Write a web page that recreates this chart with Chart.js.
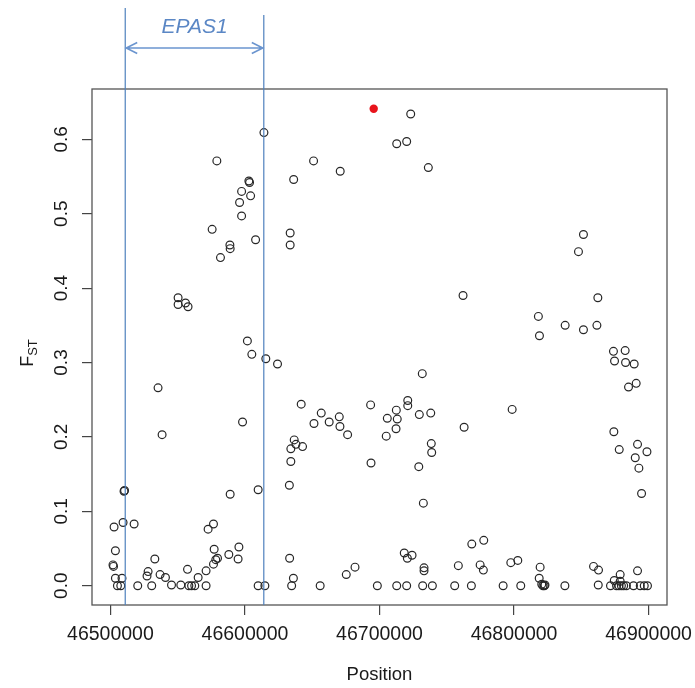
<!DOCTYPE html>
<html><head><meta charset="utf-8">
<script src="https://cdn.jsdelivr.net/npm/chart.js@4/dist/chart.umd.min.js"></script>
<style>html,body{margin:0;padding:0;background:#fff}#wrap{width:695px;height:688px;position:relative}</style>
</head><body><div id="wrap"><canvas id="c"></canvas></div>
<script>
// SNP positions and FST values (open circles)
const positions = [
46614100,46579100,46602900,46603400,46597500,46604200,46596000,46597500,46575600,46607900,46588800,46589000,46581800,46550300,46550300,46555800,46557700,46601800,46636200,46633600,46633600,
46605100,46615500,46624200,46535400,46538400,46598200,
46636600,46637900,46642800,46634100,46634100,46633000,
46510100,46510500,46589000,46609800,46502700,46509400,46517600,46572600,46576600,46503700,46533000,46577100,46595500,46588000,46594900,46578300,46579600,46576600,46501900,46502300,46528000,46527200,46536900,46540900,46557300,46571100,46565200,46503700,46508600,46505200,46507700,46520300,46530700,46545400,46552300,46558300,46560300,46562700,46571100,46609800,46614800,46634700,46636000,46633200,
46723200,46712800,46720200,46651000,46670800,46736300,46762100,
46731800,46641800,46656700,46651300,46662600,46670100,46670600,46676300,46693400,46705800,46712500,46713200,46712300,46705000,46721000,46721000,46729600,46738100,46762900,46738500,46738800,46729200,46693700,46732600,46768600,
46655900,46675300,46681800,46698400,46712800,46720200,46718400,46724200,46720700,46733100,46733100,46732100,46739300,46755900,46768300,46758600,46774800,
46851600,46847900,46862300,46818100,46838000,46851600,46861600,46818900,
46873900,46882600,46874700,46882900,46889300,46885100,46890800,46798600,46874200,46878200,46891800,46898800,46890100,46892800,46894800,
46777500,46777200,46797600,46802800,46819400,46818700,46820600,46821500,46822500,46823000,46791900,46805000,46837800,46859100,46862800,46862600,46871700,46874500,46878900,46878900,46876200,46878000,46879800,46881500,46883500,46891800,46888800,46893800,46896800,46899200
];
const fst = [
0.609,0.571,0.544,0.542,0.530,0.524,0.515,0.497,0.479,0.465,0.458,0.453,0.441,0.387,0.378,0.380,0.375,0.329,0.546,0.474,0.458,
0.311,0.305,0.298,0.266,0.203,0.220,
0.196,0.190,0.187,0.184,0.167,0.135,
0.127,0.128,0.123,0.129,0.079,0.085,0.083,0.076,0.083,0.047,0.036,0.049,0.052,0.042,0.036,0.035,0.037,0.029,0.028,0.026,0.019,0.013,0.015,0.011,0.022,0.020,0.011,0.010,0.010,0.000,0.000,0.000,0.000,0.001,0.001,0.000,0.000,0.000,0.000,0.000,0.000,0.000,0.010,0.037,
0.634,0.594,0.597,0.571,0.557,0.562,0.390,
0.285,0.244,0.232,0.218,0.220,0.227,0.214,0.203,0.243,0.225,0.236,0.224,0.211,0.201,0.249,0.242,0.230,0.232,0.213,0.191,0.179,0.160,0.165,0.111,0.056,
0.000,0.015,0.025,0.000,0.000,0.000,0.044,0.041,0.037,0.024,0.020,0.000,0.000,0.000,0.000,0.027,0.028,
0.472,0.449,0.387,0.362,0.350,0.344,0.350,0.336,
0.315,0.316,0.302,0.300,0.298,0.267,0.272,0.237,0.207,0.183,0.190,0.180,0.172,0.158,0.124,
0.061,0.021,0.031,0.034,0.025,0.010,0.002,0.000,0.000,0.001,0.000,0.000,0.000,0.026,0.021,0.001,0.000,0.007,0.015,0.006,0.000,0.000,0.000,0.000,0.000,0.020,0.000,0.000,0.000,0.000
];
// highlighted top SNP (filled red)
const peakPositions = [46695700];
const peakFst = [0.641];

const xTicks = [46500000, 46600000, 46700000, 46800000, 46900000];
const yTicks = [0.0, 0.1, 0.2, 0.3, 0.4, 0.5, 0.6];
const xRange = [46486300, 46913700];
const yRange = [-0.0259, 0.6676];

const geneName = 'EPAS1';
const geneStart = 46511000;
const geneEnd = 46614000;

const xTitle = 'Position';
const yTitleMain = 'F';
const yTitleSub = 'ST';

const FONT = "'Liberation Sans', Arial, sans-serif";
const BLUE = '#4f81bd';

const mainPts = positions.map((p, i) => ({x: p, y: fst[i]}));
const peakPts = peakPositions.map((p, i) => ({x: p, y: peakFst[i]}));

const framePlugin = {
  id: 'frame',
  afterDraw(chart) {
    const {ctx, chartArea: a, scales: {x}} = chart;
    ctx.save();
    // box
    ctx.strokeStyle = '#555';
    ctx.lineWidth = 1.3;
    ctx.strokeRect(a.left, a.top, a.right - a.left, a.bottom - a.top);
    // gene boundaries
    const x1 = x.getPixelForValue(geneStart);
    const x2 = x.getPixelForValue(geneEnd);
    ctx.strokeStyle = BLUE;
    ctx.lineWidth = 1.2;
    ctx.beginPath();
    ctx.moveTo(x1, 8); ctx.lineTo(x1, a.bottom);
    ctx.moveTo(x2, 15); ctx.lineTo(x2, a.bottom);
    ctx.stroke();
    // double arrow
    const ay = 48;
    ctx.strokeStyle = '#6b95cf';
    ctx.lineWidth = 1.6;
    ctx.beginPath();
    ctx.moveTo(x1 + 1, ay); ctx.lineTo(x2 - 1, ay);
    ctx.moveTo(x1 + 12, ay - 5.5); ctx.lineTo(x1 + 1, ay); ctx.lineTo(x1 + 12, ay + 5.5);
    ctx.moveTo(x2 - 12, ay - 5.5); ctx.lineTo(x2 - 1, ay); ctx.lineTo(x2 - 12, ay + 5.5);
    ctx.stroke();
    // gene label
    ctx.fillStyle = '#5b87c5';
    ctx.font = 'italic 21px ' + FONT;
    ctx.textAlign = 'center';
    ctx.textBaseline = 'middle';
    ctx.fillText(geneName, (x1 + x2) / 2, 27);
    // y title F_ST
    ctx.fillStyle = '#1a1a1a';
    ctx.translate(27, 353);
    ctx.rotate(-Math.PI / 2);
    ctx.font = '18px ' + FONT;
    const wF = ctx.measureText(yTitleMain).width;
    ctx.font = '13px ' + FONT;
    const wS = ctx.measureText(yTitleSub).width;
    const start = -(wF + wS) / 2;
    ctx.textAlign = 'left';
    ctx.textBaseline = 'alphabetic';
    ctx.font = '18px ' + FONT;
    ctx.fillText(yTitleMain, start, 6);
    ctx.font = '13px ' + FONT;
    ctx.fillText(yTitleSub, start + wF, 10);
    ctx.restore();
  }
};

new Chart(document.getElementById('c'), {
  type: 'scatter',
  data: {
    datasets: [
      {data: mainPts, pointStyle: 'circle', pointRadius: 3.9, pointBorderWidth: 1.2,
       pointBackgroundColor: 'rgba(0,0,0,0)', pointBorderColor: '#262626', pointHoverRadius: 3.9},
      {data: peakPts, pointStyle: 'circle', pointRadius: 4.2, pointBorderWidth: 0,
       pointBackgroundColor: '#e8141c', pointBorderColor: '#e8141c', pointHoverRadius: 4.2}
    ]
  },
  options: {
    responsive: true,
    maintainAspectRatio: false,
    animation: false,
    events: [],
    layout: {padding: {top: 89, right: 28, left: 0, bottom: 0}},
    plugins: {legend: {display: false}, tooltip: {enabled: false}},
    scales: {
      x: {
        type: 'linear', min: xRange[0], max: xRange[1],
        afterBuildTicks: s => { s.ticks = xTicks.map(v => ({value: v})); },
        afterFit: s => { s.height = 83; s.paddingLeft = 0; s.paddingRight = 0; },
        grid: {drawOnChartArea: false, drawTicks: true, tickLength: 10, color: '#444', lineWidth: 1.2},
        border: {display: false},
        ticks: {autoSkip: false, maxRotation: 0, minRotation: 0, padding: 8, color: '#1a1a1a',
                font: {size: 19.5, family: FONT}, callback: v => String(v)},
        title: {display: true, text: xTitle, color: '#1a1a1a', padding: {top: 4, bottom: 4},
                font: {size: 18.5, family: FONT, lineHeight: 1.0}}
      },
      y: {
        type: 'linear', min: yRange[0], max: yRange[1],
        afterBuildTicks: s => { s.ticks = yTicks.map(v => ({value: v})); },
        afterFit: s => { s.width = 92; s.paddingTop = 0; s.paddingBottom = 0; },
        grid: {drawOnChartArea: false, drawTicks: true, tickLength: 10, color: '#444', lineWidth: 1.2},
        border: {display: false},
        ticks: {autoSkip: false, minRotation: 90, maxRotation: 90, crossAlign: 'center', padding: 7,
                color: '#1a1a1a', font: {size: 19, family: FONT}, callback: v => v.toFixed(1)}
      }
    }
  },
  plugins: [framePlugin]
});
</script>
</body></html>
